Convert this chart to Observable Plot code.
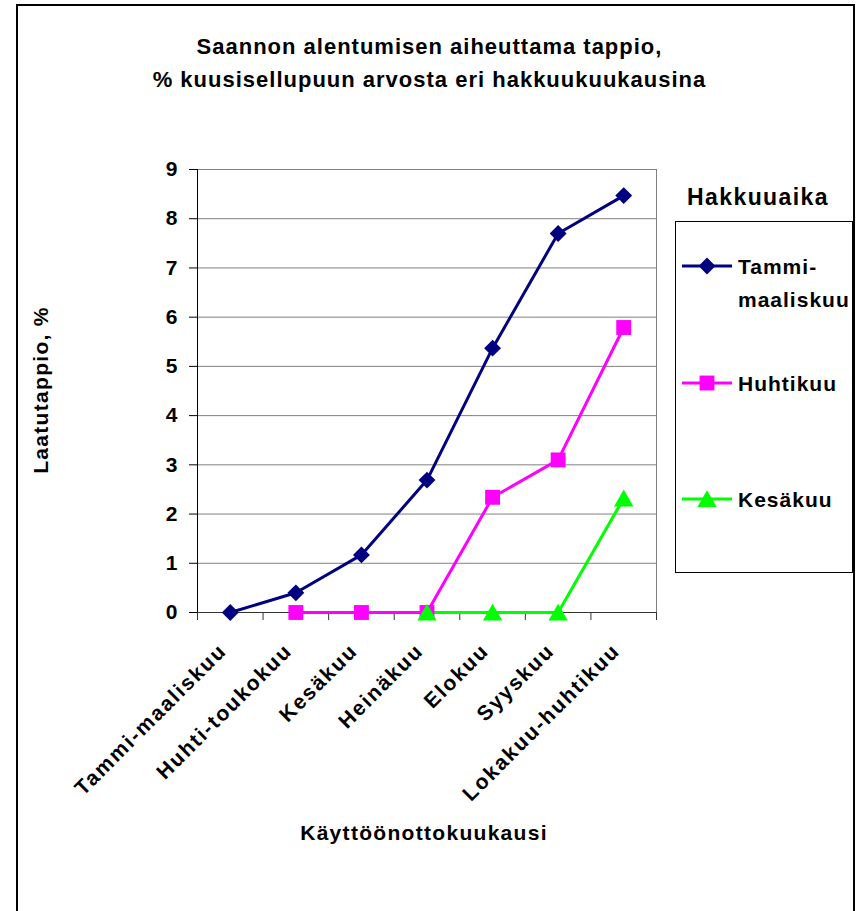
<!DOCTYPE html>
<html><head><meta charset="utf-8">
<script src="https://cdn.jsdelivr.net/npm/d3@7"></script>
<script src="https://cdn.jsdelivr.net/npm/@observablehq/plot@0.6"></script>
<style>
body{margin:0;background:#fff;}
#wrap{position:relative;width:859px;height:911px;overflow:hidden;background:#fff;font-family:Arial,"Liberation Sans",sans-serif;font-weight:bold;color:#000;}
.abs{position:absolute;white-space:nowrap;}
#frame{left:16px;top:4px;width:839px;height:930px;border:2px solid #000;box-sizing:border-box;}
#title{left:0;width:859px;top:30px;text-align:center;font-size:22px;line-height:33px;letter-spacing:1px;}
#ylab{left:41px;top:390px;transform:translate(-50%,-50%) rotate(-90deg);font-size:21px;letter-spacing:1.3px;}
#xlab{left:424px;top:833px;transform:translate(-50%,-50%);font-size:21px;letter-spacing:1.3px;}
#legtitle{left:758px;top:197px;transform:translate(-50%,-50%);font-size:23px;letter-spacing:1.4px;}
#legbox{left:675px;top:221px;width:178px;height:352px;border:1px solid #000;box-sizing:border-box;background:#fff;}
.legtext{font-size:21px;line-height:33px;letter-spacing:1px;white-space:normal;width:112px;}
svg.plot{position:absolute;left:0;top:0;}
</style></head>
<body><div id="wrap">
<div id="frame" class="abs"></div>
</div>
<script>
const title = ["Saannon alentumisen aiheuttama tappio,", "% kuusisellupuun arvosta eri hakkuukuukausina"];
const categories = ["Tammi-maaliskuu", "Huhti-toukokuu", "Kesäkuu", "Heinäkuu", "Elokuu", "Syyskuu", "Lokakuu-huhtikuu"];
const seriesNames = ["Tammi-maaliskuu", "Huhtikuu", "Kesäkuu"];
const seriesColors = ["#000080", "#FF00FF", "#00FF00"];
const seriesSymbols = ["diamond2", "square", "triangle"];
const tammiValues = [0, 0.4, 1.17, 2.69, 5.37, 7.7, 8.47];
const huhtiValues = [null, 0, 0, 0, 2.34, 3.1, 5.79];
const kesaValues = [null, null, null, 0, 0, 0, 2.32];
const yTicks = [0, 1, 2, 3, 4, 5, 6, 7, 8, 9];
const yLabel = "Laatutappio, %";
const xLabel = "Käyttöönottokuukausi";
const legendTitle = "Hakkuuaika";

const allValues = [tammiValues, huhtiValues, kesaValues];
const rows = [];
allValues.forEach((vals, k) => vals.forEach((v, i) => {
  if (v != null) rows.push({series: seriesNames[k], cat: categories[i], pos: i + 0.5, value: v});
}));

const symbolSize = {diamond2: 7.6, square: 8.4, triangle: 7.2};
const d3Symbols = {diamond2: d3.symbolDiamond2, square: d3.symbolSquare, triangle: d3.symbolTriangle};
const font = "Arial, 'Liberation Sans', sans-serif";

const plot = Plot.plot({
  width: 859, height: 911,
  marginLeft: 197, marginRight: 203, marginTop: 169, marginBottom: 299,
  style: {background: "transparent", fontFamily: font, overflow: "visible"},
  x: {type: "linear", domain: [0, categories.length]},
  y: {domain: [0, 9]},
  marks: [
    Plot.gridY(yTicks, {stroke: "#808080", strokeOpacity: 1, strokeWidth: 1}),
    Plot.ruleX([categories.length], {stroke: "#808080"}),
    Plot.axisY(yTicks, {tickSize: 8, tickPadding: 12, fontSize: 21, fontWeight: "bold", color: "#000", label: null, tickFormat: d => String(d)}),
    Plot.axisX(d3.range(categories.length + 1), {tickSize: 8, tickFormat: () => "", color: "#333", label: null}),
    Plot.ruleX([0], {stroke: "#000"}),
    Plot.ruleY([0], {stroke: "#333"}),
    Plot.text(categories, {x: (d, i) => i + 0.5, y: () => 0, text: d => d, rotate: -45, textAnchor: "end", lineAnchor: "top",
      dx: -13, dy: 29, fontSize: 21, fontWeight: "bold", fill: "#000"}),
    Plot.line(rows, {x: "pos", y: "value", z: "series", stroke: d => seriesColors[seriesNames.indexOf(d.series)], strokeWidth: 3, curve: "linear"}),
    ...seriesNames.map((s, k) => Plot.dot(rows.filter(d => d.series === s), {
      x: "pos", y: "value", symbol: seriesSymbols[k], r: symbolSize[seriesSymbols[k]],
      fill: seriesColors[k], stroke: "none", dy: seriesSymbols[k] === "triangle" ? 2.5 : 0
    }))
  ]
});
const wrap = document.getElementById("wrap");
wrap.appendChild(plot);
// apply letter spacing to the category labels
plot.querySelectorAll("text").forEach(t => { if (categories.includes(t.textContent)) t.style.letterSpacing = "1.9px"; });

function addDiv(id, html) {
  const d = document.createElement("div");
  d.id = id; d.className = "abs"; d.innerHTML = html; wrap.appendChild(d); return d;
}
addDiv("title", title.join("<br>"));
addDiv("ylab", yLabel);
addDiv("xlab", xLabel);
addDiv("legtitle", legendTitle);
addDiv("legbox", "");

const entryY = [266, 383, 499];
seriesNames.forEach((s, k) => {
  const sym = d3.symbol(d3Symbols[seriesSymbols[k]], Math.PI * symbolSize[seriesSymbols[k]] ** 2)();
  const g = document.createElement("div");
  g.className = "abs";
  g.style.left = "682px"; g.style.top = (entryY[k] - 12) + "px";
  g.innerHTML = `<svg width="50" height="24" style="display:block;overflow:visible"><line x1="0" x2="50" y1="12" y2="12" stroke="${seriesColors[k]}" stroke-width="3"/><path d="${sym}" transform="translate(25,${seriesSymbols[k] === "triangle" ? 14.5 : 12})" fill="${seriesColors[k]}"/></svg>`;
  wrap.appendChild(g);
  const t = document.createElement("div");
  t.className = "abs legtext";
  t.style.left = "738px"; t.style.top = (entryY[k] - 16.5) + "px";
  t.textContent = s;
  wrap.appendChild(t);
});
</script>
</body></html>
